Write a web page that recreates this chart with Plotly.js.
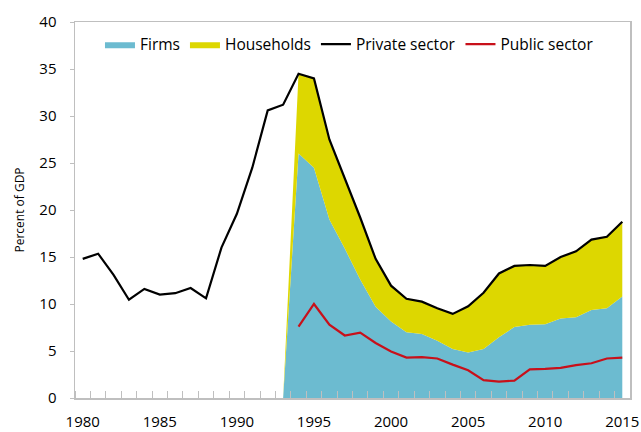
<!DOCTYPE html>
<html>
<head>
<meta charset="utf-8">
<script src="https://cdn.plot.ly/plotly-3.0.1.min.js"></script>
<style>
html,body{margin:0;padding:0;background:#fff;}
#chart{width:641px;height:432px;}
</style>
</head>
<body>
<div id="chart"></div>
<script>
// Private sector credit, 1980-2015
const years = [1980,1981,1982,1983,1984,1985,1986,1987,1988,1989,1990,1991,1992,1993,1994,1995,1996,1997,1998,1999,2000,2001,2002,2003,2004,2005,2006,2007,2008,2009,2010,2011,2012,2013,2014,2015];
const privateSector = [14.8,15.35,13.1,10.45,11.6,11.0,11.15,11.7,10.6,16.0,19.6,24.5,30.6,31.2,34.5,34.0,27.5,23.4,19.2,14.8,11.95,10.55,10.25,9.55,8.95,9.75,11.2,13.25,14.05,14.15,14.05,15.0,15.6,16.85,17.15,18.75];

// Breakdown available from 1993
const splitYears = [1993,1994,1995,1996,1997,1998,1999,2000,2001,2002,2003,2004,2005,2006,2007,2008,2009,2010,2011,2012,2013,2014,2015];
const firms = [0,26.0,24.5,19.0,15.9,12.6,9.7,8.15,7.0,6.8,6.1,5.2,4.85,5.2,6.45,7.55,7.8,7.85,8.45,8.6,9.35,9.55,10.8];
const households = [0,8.5,9.5,8.5,7.5,6.6,5.1,3.8,3.55,3.45,3.45,3.75,4.9,6.0,6.8,6.5,6.35,6.2,6.55,7.0,7.5,7.6,7.95];

// Public sector from 1994
const publicYears = [1994,1995,1996,1997,1998,1999,2000,2001,2002,2003,2004,2005,2006,2007,2008,2009,2010,2011,2012,2013,2014,2015];
const publicSector = [7.6,10.0,7.8,6.65,6.95,5.85,4.95,4.3,4.35,4.2,3.55,2.95,1.9,1.75,1.85,3.05,3.1,3.2,3.5,3.7,4.2,4.3];

const tickYears = [1980,1985,1990,1995,2000,2005,2010,2015];

const FONT = '"Open Sans", "Noto Sans", sans-serif';
const AXIS_COLOR = '#BFBFBF';

const traces = [
  {
    x: splitYears, y: firms, name: 'Firms', type: 'scatter', mode: 'lines',
    stackgroup: 'credit', line: {width: 0, color: '#6CBBD0'}, fillcolor: '#6CBBD0',
    hoverinfo: 'x+y+name'
  },
  {
    x: splitYears, y: households, name: 'Households', type: 'scatter', mode: 'lines',
    stackgroup: 'credit', line: {width: 0, color: '#DDD700'}, fillcolor: '#DDD700',
    hoverinfo: 'x+y+name'
  },
  {
    x: years, y: privateSector, name: 'Private sector', type: 'scatter', mode: 'lines',
    line: {color: '#000000', width: 2.2}
  },
  {
    x: publicYears, y: publicSector, name: 'Public sector', type: 'scatter', mode: 'lines',
    line: {color: '#C8101A', width: 2.2}
  }
];

const layout = {
  width: 641, height: 432,
  margin: {l: 75, r: 11, t: 22, b: 34, pad: 0},
  paper_bgcolor: '#ffffff', plot_bgcolor: '#ffffff',
  font: {family: FONT, size: 15, color: '#000000'},
  showlegend: true,
  legend: {
    orientation: 'h', x: 0.045, xanchor: 'left', y: 0.985, yanchor: 'top',
    bgcolor: 'rgba(0,0,0,0)', font: {family: FONT, size: 15.5, color: '#000'},
    traceorder: 'normal', itemwidth: 30
  },
  xaxis: {
    range: [1979.5, 2015.5], tickmode: 'array', tickvals: tickYears,
    ticks: '', showgrid: false, zeroline: false,
    showline: true, linecolor: AXIS_COLOR, linewidth: 1.5, mirror: true,
    ticklabelstandoff: 9,
    tickfont: {family: FONT, size: 15, color: '#000'},
    minor: {tick0: 1979.5, dtick: 1, ticks: 'inside', ticklen: 7, tickcolor: AXIS_COLOR, tickwidth: 1, showgrid: false},
    layer: 'above traces'
  },
  yaxis: {
    range: [0, 40], dtick: 5, tick0: 0,
    ticks: 'outside', ticklen: 4, tickcolor: AXIS_COLOR, tickwidth: 1,
    showgrid: false, zeroline: false,
    showline: true, linecolor: AXIS_COLOR, linewidth: 1.5, mirror: true,
    ticklabelstandoff: 10,
    tickfont: {family: FONT, size: 15, color: '#000'},
    title: {text: 'Percent of GDP', font: {family: FONT, size: 12, color: '#000'}, standoff: 12},
    layer: 'above traces'
  }
};

Plotly.newPlot('chart', traces, layout, {displayModeBar: false, staticPlot: true});
</script>
</body>
</html>
